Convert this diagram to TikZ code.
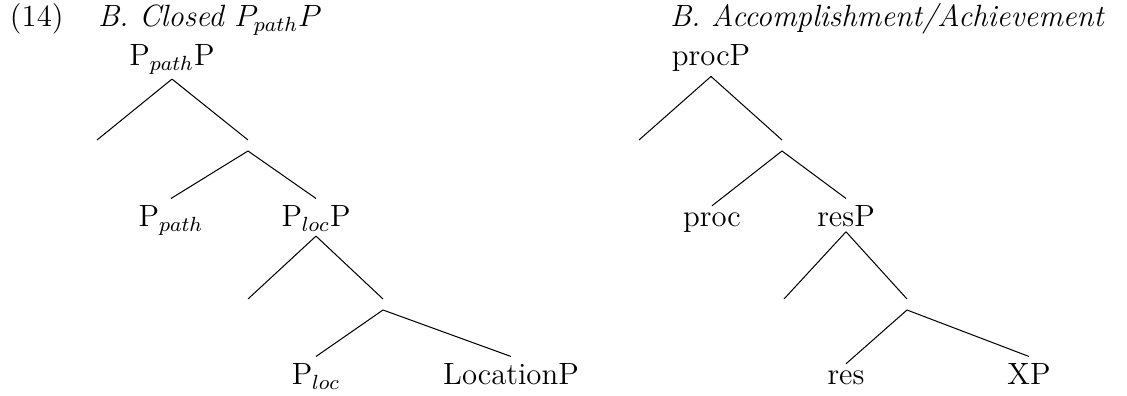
\documentclass[tikz,border=0pt]{standalone}
\begin{document}
\begin{tikzpicture}[x=0.39pt,y=-0.39pt,
  every node/.style={font=\fontsize{12}{14.5}\selectfont},
  lbl/.style={anchor=base, inner sep=1.75pt, outer sep=0pt},
  gap/.style={inner sep=0pt, outer sep=0pt, minimum width=0pt, minimum height=3.12pt},
  head/.style={anchor=base west, inner sep=0pt, outer sep=0pt},
  branch/.style={line width=0.4pt}]
\useasboundingbox (0,0) rectangle (1127,396);

% example number and headings
\node[head] (num)   at (10,27)  {(14)};
\node[head] (headA) at (98,27)  {\textit{B. Closed $P_{path}P$}};
\node[head] (headB) at (670,27) {\textit{B. Accomplishment/Achievement}};

% left tree: closed path phrase
\node[lbl] (ppathP) at (172,66)  {P$_{path}$P\ };
\node[gap] (a1)     at (97,147)  {};
\node[gap] (a2)     at (248,147) {};
\node[lbl] (ppath)  at (171,227) {P$_{path}$};
\node[lbl] (plocP)  at (316,227) {P$_{loc}$P};
\node[gap] (a3)     at (248,306) {};
\node[gap] (a4)     at (383,306) {};
\node[lbl] (ploc)   at (316,385) {P$_{loc}$};
\node[lbl] (locP)   at (511,385) {LocationP};

\draw[branch] (ppathP.south) -- ([yshift=1.17pt]a1.north);
\draw[branch] (ppathP.south) -- ([yshift=1.17pt]a2.north);
\draw[branch] (a2.south) -- ([yshift=1.17pt]ppath.north);
\draw[branch] (a2.south) -- ([yshift=1.17pt]plocP.north);
\draw[branch] (plocP.south) -- ([yshift=1.17pt]a3.north);
\draw[branch] (plocP.south) -- ([yshift=1.17pt]a4.north);
\draw[branch] (a4.south) -- ([yshift=1.17pt]ploc.north);
\draw[branch] (a4.south) -- ([yshift=1.17pt]locP.north);

% right tree: accomplishment / achievement
\node[lbl] (procP) at (711,66)   {procP\ };
\node[gap] (b1)    at (639,147)  {};
\node[gap] (b2)    at (782,147)  {};
\node[lbl] (proc)  at (712,227)  {proc};
\node[lbl] (resP)  at (846,227)  {resP};
\node[gap] (b3)    at (784,306)  {};
\node[gap] (b4)    at (907,306)  {};
\node[lbl] (res)   at (846,385)  {res};
\node[lbl] (xp)    at (1029,385) {XP};

\draw[branch] (procP.south) -- ([yshift=1.17pt]b1.north);
\draw[branch] (procP.south) -- ([yshift=1.17pt]b2.north);
\draw[branch] (b2.south) -- ([yshift=1.17pt]proc.north);
\draw[branch] (b2.south) -- ([yshift=1.17pt]resP.north);
\draw[branch] (resP.south) -- ([yshift=1.17pt]b3.north);
\draw[branch] (resP.south) -- ([yshift=1.17pt]b4.north);
\draw[branch] (b4.south) -- ([yshift=1.17pt]res.north);
\draw[branch] (b4.south) -- ([yshift=1.17pt]xp.north);
\end{tikzpicture}
\end{document}
